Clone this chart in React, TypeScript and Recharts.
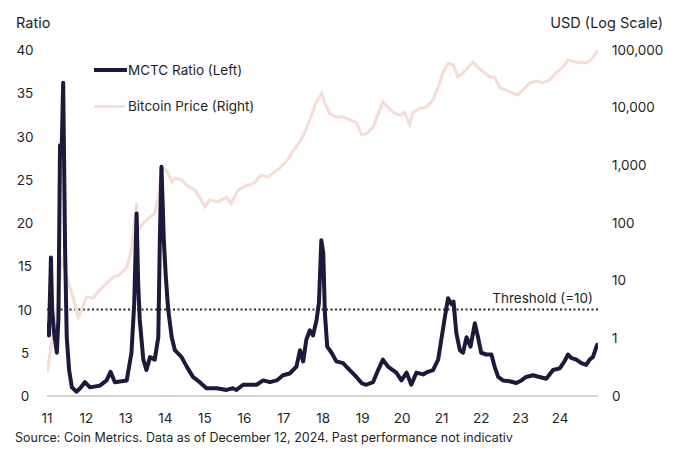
import React from 'react';
import { ComposedChart, Line, XAxis, YAxis, ReferenceLine } from 'recharts';

// MCTC ratio (left axis) — [year, ratio]
const ratioYears = [
  2011.01, 2011.05, 2011.10, 2011.13, 2011.18, 2011.25, 2011.29, 2011.33, 2011.37, 2011.41,
  2011.46, 2011.50, 2011.56, 2011.63, 2011.75, 2011.84, 2011.96, 2012.09, 2012.34, 2012.51,
  2012.61, 2012.72, 2013.02, 2013.14, 2013.21, 2013.27, 2013.31, 2013.35, 2013.44, 2013.52,
  2013.61, 2013.73, 2013.82, 2013.86, 2013.90, 2013.96, 2014.01, 2014.07, 2014.16, 2014.24,
  2014.41, 2014.54, 2014.70, 2014.87, 2015.04, 2015.30, 2015.55, 2015.71, 2015.80, 2015.97,
  2016.31, 2016.48, 2016.65, 2016.82, 2016.98, 2017.15, 2017.32, 2017.41, 2017.49, 2017.57,
  2017.66, 2017.74, 2017.83, 2017.89, 2017.95, 2018.00, 2018.04, 2018.10, 2018.21, 2018.33,
  2018.50, 2018.67, 2018.84, 2018.97, 2019.09, 2019.26, 2019.39, 2019.51, 2019.64, 2019.76,
  2019.85, 2019.98, 2020.11, 2020.23, 2020.36, 2020.53, 2020.65, 2020.78, 2020.91, 2020.99,
  2021.08, 2021.16, 2021.25, 2021.30, 2021.37, 2021.46, 2021.54, 2021.63, 2021.73, 2021.84,
  2021.92, 2022.00, 2022.13, 2022.26, 2022.34, 2022.43, 2022.55, 2022.72, 2022.89, 2023.02,
  2023.14, 2023.31, 2023.48, 2023.65, 2023.82, 2023.99, 2024.11, 2024.20, 2024.28, 2024.41,
  2024.54, 2024.66, 2024.75, 2024.83, 2024.92, 2024.96,
];
const ratioValues = [
  8.5, 7, 16, 10, 7.3, 5, 9, 29, 28, 36.2,
  16.5, 6.8, 3, 1, 0.5, 0.9, 1.6, 1.0, 1.2, 1.8,
  2.8, 1.6, 1.8, 5, 10.7, 21.1, 13, 8.8, 4.2, 3,
  4.5, 4.2, 6.8, 18.4, 26.5, 18, 13.8, 10, 6.8, 5.3,
  4.5, 3.4, 2.2, 1.6, 0.9, 0.9, 0.7, 0.9, 0.7, 1.3,
  1.3, 1.8, 1.6, 1.8, 2.4, 2.6, 3.4, 5.3, 4, 6.5,
  7.6, 7, 8.8, 10.8, 18, 16.5, 9.6, 5.7, 5, 4,
  3.8, 3, 2.2, 1.5, 1.3, 1.6, 3, 4.2, 3.4, 3.0,
  2.7, 1.8, 2.7, 1.3, 2.7, 2.5, 2.8, 3, 4.2, 6.5,
  9.1, 11.3, 10.6, 10.9, 7.3, 5.3, 5, 6.8, 5.7, 8.4,
  6.8, 5, 4.8, 4.8, 3.4, 2.2, 1.8, 1.7, 1.5, 1.8,
  2.2, 2.4, 2.2, 2, 3, 3.2, 4, 4.8, 4.4, 4.2,
  3.8, 3.6, 4.2, 4.5, 5.7, 6.1,
];

// Bitcoin price in USD (right axis, log scale) — [year, price]
const priceYears = [
  2011.01, 2011.16, 2011.28, 2011.37, 2011.50, 2011.66, 2011.79, 2011.88, 2012.00, 2012.17,
  2012.34, 2012.51, 2012.68, 2012.84, 2013.02, 2013.14, 2013.27, 2013.31, 2013.44, 2013.61,
  2013.73, 2013.82, 2013.90, 2014.03, 2014.08, 2014.16, 2014.25, 2014.41, 2014.58, 2014.75,
  2014.91, 2015.00, 2015.12, 2015.33, 2015.54, 2015.67, 2015.84, 2016.00, 2016.25, 2016.42,
  2016.59, 2016.76, 2016.92, 2017.09, 2017.26, 2017.43, 2017.56, 2017.68, 2017.81, 2017.96,
  2018.04, 2018.16, 2018.33, 2018.50, 2018.67, 2018.84, 2018.97, 2019.09, 2019.26, 2019.39,
  2019.51, 2019.64, 2019.77, 2019.94, 2020.06, 2020.19, 2020.27, 2020.44, 2020.61, 2020.78,
  2020.91, 2021.03, 2021.16, 2021.29, 2021.41, 2021.54, 2021.67, 2021.79, 2021.92, 2022.05,
  2022.22, 2022.34, 2022.47, 2022.63, 2022.80, 2022.93, 2023.06, 2023.23, 2023.40, 2023.56,
  2023.73, 2023.90, 2024.07, 2024.20, 2024.32, 2024.49, 2024.66, 2024.79, 2024.87, 2024.96,
];
const priceValues = [
  0.26, 1.4, 4, 26, 11.5, 5.2, 2.3, 3.1, 5.2, 5,
  6.9, 9.1, 11.5, 12.6, 17, 34, 220, 76, 100, 126,
  148, 280, 930, 800, 700, 520, 600, 560, 430, 370,
  250, 190, 250, 235, 280, 220, 370, 430, 490, 680,
  630, 760, 930, 1230, 1860, 2750, 4070, 6900, 12000, 17800,
  12000, 7900, 6900, 6900, 6200, 5500, 3400, 3550, 4570, 7900,
  12600, 10200, 8300, 7400, 8300, 5000, 8300, 9800, 10200, 13500,
  22900, 40000, 59000, 56000, 34000, 40000, 50000, 62000, 50000, 42000,
  34000, 34000, 22000, 20400, 17800, 16600, 20400, 27000, 29000, 27000,
  30000, 40000, 50000, 68000, 63000, 60000, 60000, 68000, 81000, 100000,
];

const yearTicks = [2011, 2012, 2013, 2014, 2015, 2016, 2017, 2018, 2019, 2020, 2021, 2022, 2023, 2024];
const ratioTicks = [0, 5, 10, 15, 20, 25, 30, 35, 40];
const priceTicks = [0.1, 1, 10, 100, 1000, 10000, 100000];
const threshold = 10;

const ratioData = ratioYears.map((year, i) => ({ year, ratio: ratioValues[i] }));
const priceData = priceYears.map((year, i) => ({ year, price: priceValues[i] }));

const FONT = 'Inter, "Noto Sans", sans-serif';
const TEXT = '#1f1f1f';
const NAVY = '#1b1a3a';
const PINK = '#f5ddd6';

const LeftTick = (props: any) => {
  const { y, payload } = props;
  return (
    <text x={25} y={y} dy={5} textAnchor="middle" fontSize={13.5} fill={TEXT} fontFamily={FONT}>
      {payload.value}
    </text>
  );
};

const ThresholdLabel = (props: any) => {
  const vb = props.viewBox || {};
  return (
    <text x={vb.x + vb.width - 5} y={vb.y - 7} textAnchor="end" fontSize={13.5} fill={TEXT} fontFamily={FONT}>
      Threshold (=10)
    </text>
  );
};

export default function App() {
  return (
    <div style={{ position: 'absolute', left: 0, top: 0, width: 680, height: 453, background: '#fff', fontFamily: FONT }}>
      <ComposedChart width={680} height={453} margin={{ top: 50, right: 0, bottom: 26, left: 0 }}>
        <XAxis
          dataKey="year"
          type="number"
          domain={[2011, 2024.96]}
          ticks={yearTicks}
          allowDataOverflow
          tickFormatter={(v: number) => String(v).slice(2)}
          axisLine={{ stroke: '#d4d4d4', strokeWidth: 2 }}
          tickLine={false}
          tickMargin={11}
          height={31}
          tick={{ fontSize: 13.5, fill: TEXT, fontFamily: FONT }}
        />
        <YAxis
          yAxisId="left"
          domain={[0, 40]}
          ticks={ratioTicks}
          width={47}
          axisLine={false}
          tickLine={false}
          tick={<LeftTick />}
        />
        <YAxis
          yAxisId="right"
          orientation="right"
          scale="log"
          domain={[0.1, 100000]}
          ticks={priceTicks}
          allowDataOverflow
          width={82}
          axisLine={false}
          tickLine={false}
          tickMargin={8}
          tickFormatter={(v: number) => (v < 1 ? '0' : v.toLocaleString('en-US'))}
          tick={{ fontSize: 13.5, fill: TEXT, fontFamily: FONT, textAnchor: 'start' }}
        />
        <ReferenceLine
          yAxisId="left"
          y={threshold}
          stroke="#2a2a2a"
          strokeWidth={2}
          strokeDasharray="2 2.5"
          label={<ThresholdLabel />}
        />
        <Line
          yAxisId="right"
          data={priceData}
          dataKey="price"
          type="linear"
          stroke={PINK}
          strokeWidth={3}
          dot={false}
          isAnimationActive={false}
        />
        <Line
          yAxisId="left"
          data={ratioData}
          dataKey="ratio"
          type="linear"
          stroke={NAVY}
          strokeWidth={4}
          strokeLinejoin="round"
          dot={false}
          isAnimationActive={false}
        />
      </ComposedChart>

      <div style={{ position: 'absolute', left: 16, top: 14, fontSize: 14.5, color: TEXT }}>Ratio</div>
      <div style={{ position: 'absolute', right: 17, top: 14, fontSize: 14.5, color: TEXT }}>USD (Log Scale)</div>

      <div style={{ position: 'absolute', left: 94, top: 61, fontSize: 13.5, color: TEXT }}>
        <div style={{ display: 'flex', alignItems: 'center', height: 18 }}>
          <span style={{ display: 'inline-block', width: 33, height: 3.5, background: NAVY }} />
          <span style={{ marginLeft: 1 }}>MCTC Ratio (Left)</span>
        </div>
        <div style={{ display: 'flex', alignItems: 'center', height: 18, marginTop: 18 }}>
          <span style={{ display: 'inline-block', width: 31, height: 3, background: PINK }} />
          <span style={{ marginLeft: 3 }}>Bitcoin Price (Right)</span>
        </div>
      </div>

      <div style={{ position: 'absolute', left: 15, top: 430, fontSize: 12.5, color: TEXT, whiteSpace: 'nowrap' }}>
        Source: Coin Metrics. Data as of December 12, 2024. Past performance not indicativ
      </div>
    </div>
  );
}
